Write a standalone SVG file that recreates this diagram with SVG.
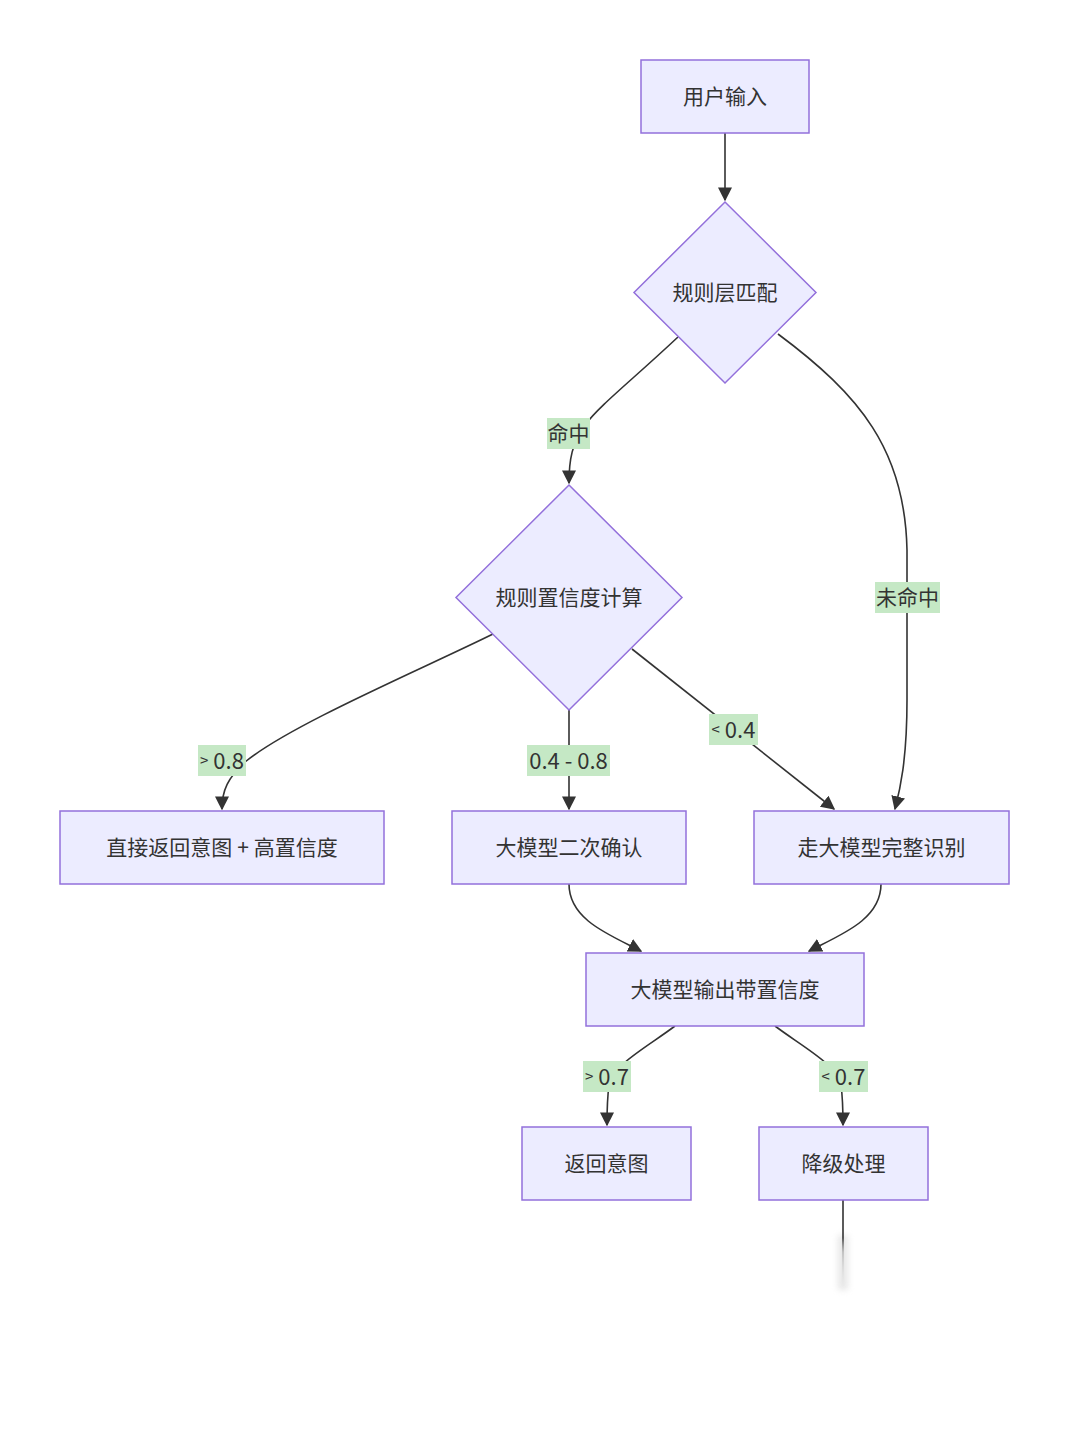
<svg xmlns="http://www.w3.org/2000/svg" width="1080" height="1434" viewBox="0 0 1080 1434">
<style>
.node rect,.node polygon{fill:#ECECFF;stroke:#9370DB;stroke-width:1.5}
.node text{font-family:"Noto Sans CJK SC","Liberation Sans",sans-serif;font-size:21px;fill:#333;text-anchor:middle;dominant-baseline:central}
.edge{fill:none;stroke:#333;stroke-width:1.6}
.lbl rect{fill:#C5E8C5;stroke:none}
.lbl text{font-family:"Noto Sans CJK SC","Liberation Sans",sans-serif;font-size:21px;fill:#333;text-anchor:middle;dominant-baseline:central}
.lbl text.num{font-size:22px}
.lbl tspan.op{font-size:15px}
</style>
<defs>
<marker id="arr" markerUnits="userSpaceOnUse" markerWidth="14" markerHeight="14" viewBox="0 0 10 10" refX="9" refY="5" orient="auto">
<path d="M0,0 L10,5 L0,10 z" fill="#333"/>
</marker>
<linearGradient id="fade" gradientUnits="userSpaceOnUse" x1="0" y1="1200" x2="0" y2="1295">
<stop offset="0" stop-color="#333" stop-opacity="1"/>
<stop offset="0.4" stop-color="#333" stop-opacity="1"/>
<stop offset="0.55" stop-color="#888" stop-opacity="0.5"/>
<stop offset="1" stop-color="#fff" stop-opacity="0"/>
</linearGradient>
<filter id="blur" x="-5" y="-1" width="11" height="3"><feGaussianBlur stdDeviation="3"/></filter>
</defs>
<rect width="1080" height="1434" fill="#fff"/>
<g id="connectors">
<path class="edge" d="M725,133 L725,200" marker-end="url(#arr)"/>
<path class="edge" d="M678,337 C630,382 600,405 585,425 C572,443 569,460 569,483" marker-end="url(#arr)"/>
<path class="edge" d="M778,334 C860,395 905,450 907,550 L907,700 C907,760 900,790 895,809" marker-end="url(#arr)"/>
<path class="edge" d="M493,634 C420,670 290,725 245,762 C228,778 222,790 222,809" marker-end="url(#arr)"/>
<path class="edge" d="M569,710 L569,809" marker-end="url(#arr)"/>
<path class="edge" d="M632,649 L834,809" marker-end="url(#arr)"/>
<path class="edge" d="M569,884 C569,920 610,935 641,951" marker-end="url(#arr)"/>
<path class="edge" d="M881,884 C881,920 840,935 809,951" marker-end="url(#arr)"/>
<path class="edge" d="M675,1026 C650,1045 612,1065 609,1085 C607,1100 607,1110 607,1125" marker-end="url(#arr)"/>
<path class="edge" d="M775,1026 C800,1045 838,1065 841,1085 C843,1100 843,1110 843,1125" marker-end="url(#arr)"/>
<rect x="838" y="1235" width="10" height="55" fill="#bbb" opacity="0.35" filter="url(#blur)"/>
<rect x="842.2" y="1200" width="1.6" height="95" fill="url(#fade)"/>
</g>
<g id="edge-labels">
<g class="lbl" id="lbl-hit"><rect x="547" y="418" width="43" height="31"/><text x="568.5" y="432">命中</text></g>
<g class="lbl" id="lbl-miss"><rect x="875" y="582" width="65" height="31"/><text x="907.5" y="596">未命中</text></g>
<g class="lbl" id="lbl-gt08"><rect x="198" y="745" width="48" height="31"/><text class="num" x="222" y="759"><tspan class="op">&gt;</tspan> 0.8</text></g>
<g class="lbl" id="lbl-mid"><rect x="527" y="745" width="83" height="31"/><text class="num" x="568.5" y="759">0.4 - 0.8</text></g>
<g class="lbl" id="lbl-lt04"><rect x="709" y="714" width="49" height="31"/><text class="num" x="733.5" y="728"><tspan class="op">&lt;</tspan> 0.4</text></g>
<g class="lbl" id="lbl-gt07"><rect x="583" y="1061" width="48" height="31"/><text class="num" x="607" y="1075"><tspan class="op">&gt;</tspan> 0.7</text></g>
<g class="lbl" id="lbl-lt07"><rect x="819" y="1061" width="49" height="31"/><text class="num" x="843.5" y="1075"><tspan class="op">&lt;</tspan> 0.7</text></g>
</g>
<g class="node" id="user-input"><rect x="641" y="60" width="168" height="73"/><text x="725" y="94.5">用户输入</text></g>
<g class="node" id="rule-match"><polygon points="725,202 816,292.5 725,383 634,292.5"/><text x="725" y="290.5">规则层匹配</text></g>
<g class="node" id="rule-conf"><polygon points="569,485 682,597.5 569,710 456,597.5"/><text x="569" y="595.5">规则置信度计算</text></g>
<g class="node" id="direct-return"><rect x="60" y="811" width="324" height="73"/><text x="222" y="845.5">直接返回意图<tspan dx="5">+</tspan><tspan dx="5">高置信度</tspan></text></g>
<g class="node" id="llm-confirm"><rect x="452" y="811" width="234" height="73"/><text x="569" y="845.5">大模型二次确认</text></g>
<g class="node" id="llm-full"><rect x="754" y="811" width="255" height="73"/><text x="881.5" y="845.5">走大模型完整识别</text></g>
<g class="node" id="llm-output"><rect x="586" y="953" width="278" height="73"/><text x="725" y="987.5">大模型输出带置信度</text></g>
<g class="node" id="return-intent"><rect x="522" y="1127" width="169" height="73"/><text x="606.5" y="1161.5">返回意图</text></g>
<g class="node" id="degrade"><rect x="759" y="1127" width="169" height="73"/><text x="843.5" y="1161.5">降级处理</text></g>
</svg>
